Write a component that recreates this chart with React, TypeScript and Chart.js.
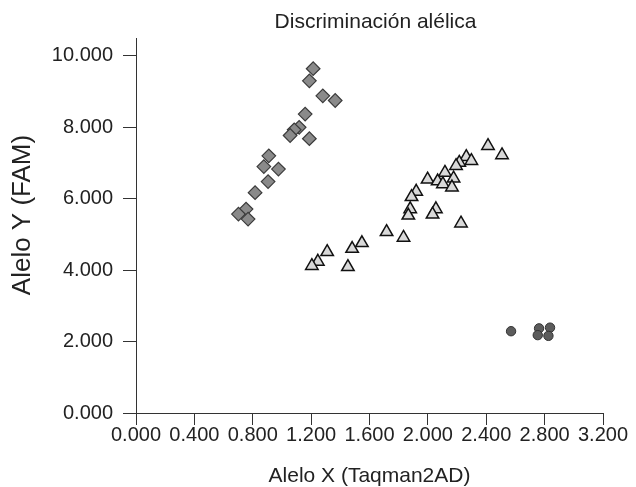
import React, { useEffect, useRef } from "react";
import { Chart, registerables } from "chart.js";

Chart.register(...registerables);

const titleText = "Discriminación alélica";
const xTitle = "Alelo X (Taqman2AD)";
const yTitle = "Alelo Y (FAM)";

const xTickValues = [0, 0.4, 0.8, 1.2, 1.6, 2.0, 2.4, 2.8, 3.2];
const yTickValues = [0, 2, 4, 6, 8, 10];

// Homozygous Y (diamonds)
const diamondX = [1.214, 1.188, 1.28, 1.365, 1.159, 1.118, 1.084, 1.056, 1.188, 0.91, 0.876, 0.976, 0.905, 0.816, 0.754, 0.702, 0.768];
const diamondY = [9.64, 9.3, 8.88, 8.75, 8.37, 8.0, 7.93, 7.77, 7.68, 7.2, 6.9, 6.83, 6.48, 6.17, 5.71, 5.57, 5.43];

// Heterozygous (triangles)
const triangleX = [2.412, 2.508, 2.263, 2.298, 2.215, 2.193, 2.117, 1.998, 2.067, 2.176, 2.103, 2.165, 1.92, 1.888, 1.879, 1.866, 2.055, 2.032, 2.227, 1.717, 1.833, 1.548, 1.481, 1.31, 1.246, 1.205, 1.452];
const triangleY = [7.48, 7.22, 7.17, 7.06, 7.01, 6.92, 6.73, 6.54, 6.49, 6.57, 6.41, 6.32, 6.2, 6.05, 5.71, 5.53, 5.71, 5.56, 5.31, 5.07, 4.91, 4.76, 4.6, 4.51, 4.24, 4.12, 4.09];

// Homozygous X (circles)
const circleX = [2.57, 2.762, 2.837, 2.753, 2.826];
const circleY = [2.29, 2.37, 2.39, 2.18, 2.16];

const toPoints = (xs: number[], ys: number[]) => xs.map((x, i) => ({ x, y: ys[i] }));

const FONT = "'Liberation Sans', Arial, Helvetica, sans-serif";
const TEXT = "#222";

const titlesPlugin = {
  id: "customTitles",
  afterDraw(chart: any) {
    const { ctx, chartArea } = chart;
    ctx.save();
    ctx.fillStyle = TEXT;
    ctx.textAlign = "center";
    ctx.textBaseline = "middle";
    ctx.font = `21px ${FONT}`;
    ctx.fillText(titleText, (chartArea.left + chartArea.right) / 2 + 6, 22);
    ctx.translate(22.5, 215);
    ctx.rotate(-Math.PI / 2);
    ctx.font = `26px ${FONT}`;
    ctx.fillText(yTitle, 0, 0);
    ctx.restore();
  },
};

export default function App() {
  const ref = useRef<HTMLCanvasElement | null>(null);

  useEffect(() => {
    if (!ref.current) return;
    const chart = new Chart(ref.current, {
      type: "scatter",
      data: {
        datasets: [
          {
            label: "Y",
            data: toPoints(diamondX, diamondY),
            pointStyle: "rectRot",
            pointRadius: 6.8,
            backgroundColor: "#8a8a8a",
            borderColor: "#3a3a3a",
            borderWidth: 1.2,
          },
          {
            label: "XY",
            data: toPoints(triangleX, triangleY),
            pointStyle: "triangle",
            pointRadius: 7.2,
            backgroundColor: "#d9d9d9",
            borderColor: "#111",
            borderWidth: 1.5,
          },
          {
            label: "X",
            data: toPoints(circleX, circleY),
            pointStyle: "circle",
            pointRadius: 4.7,
            backgroundColor: "#5c5c5c",
            borderColor: "#333",
            borderWidth: 1,
          },
        ],
      },
      options: {
        animation: false,
        responsive: true,
        maintainAspectRatio: false,
        layout: { padding: { left: 0, right: 33, top: 38, bottom: 0 } },
        plugins: {
          legend: { display: false },
          tooltip: { enabled: false },
          title: { display: false },
        },
        scales: {
          x: {
            type: "linear",
            min: 0,
            max: 3.2,
            afterBuildTicks: (scale: any) => {
              scale.ticks = xTickValues.map((v) => ({ value: v }));
            },
            afterFit: (scale: any) => {
              scale.height = 74;
            },
            grid: { drawOnChartArea: false, drawTicks: true, tickLength: 12, color: "#333" },
            border: { display: true, color: "#333", width: 1 },
            ticks: {
              color: TEXT,
              padding: 0,
              maxRotation: 0,
              autoSkip: false,
              font: { family: FONT, size: 20, lineHeight: 1 },
              callback: (v: any) => Number(v).toFixed(3),
            },
            title: {
              display: true,
              text: xTitle,
              color: TEXT,
              font: { family: FONT, size: 21, lineHeight: 1 },
              padding: { top: 0, bottom: 0 },
            },
          },
          y: {
            type: "linear",
            min: 0,
            max: 10.5,
            afterBuildTicks: (scale: any) => {
              scale.ticks = yTickValues.map((v) => ({ value: v }));
            },
            afterFit: (scale: any) => {
              scale.width = 136;
            },
            grid: { drawOnChartArea: false, drawTicks: true, tickLength: 13, color: "#333" },
            border: { display: true, color: "#333", width: 1 },
            ticks: {
              color: TEXT,
              padding: 10,
              autoSkip: false,
              font: { family: FONT, size: 20 },
              callback: (v: any) => Number(v).toFixed(3),
            },
            title: { display: false },
          },
        },
      },
      plugins: [titlesPlugin],
    } as any);
    return () => chart.destroy();
  }, []);

  return (
    <div style={{ position: "absolute", left: 0, top: 0, width: 636, height: 487, background: "#fff" }}>
      <canvas ref={ref} />
    </div>
  );
}
